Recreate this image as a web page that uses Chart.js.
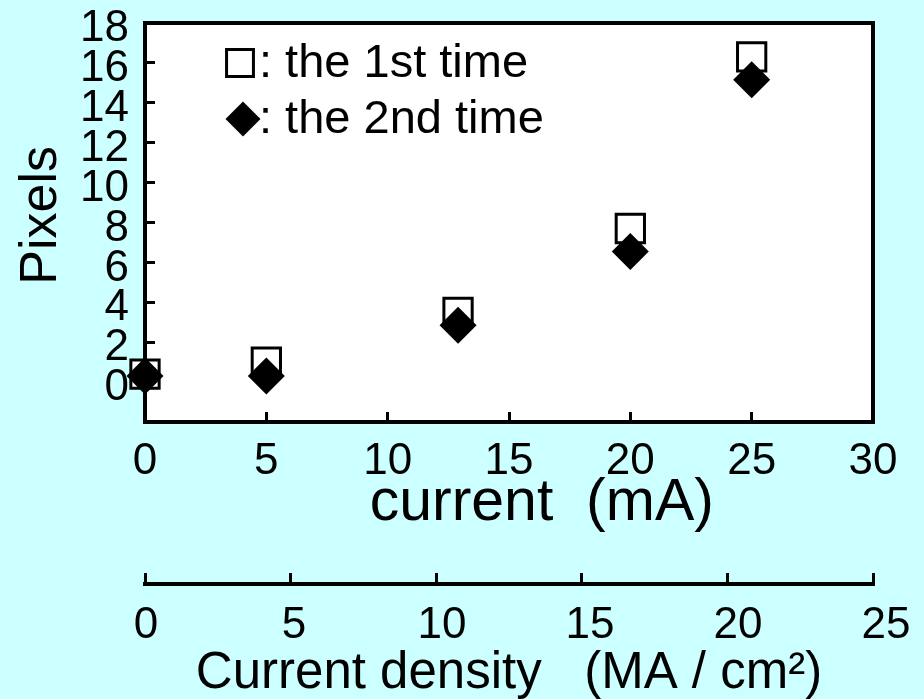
<!DOCTYPE html>
<html>
<head>
<meta charset="utf-8">
<script src="https://cdn.jsdelivr.net/npm/chart.js@4.4.1/dist/chart.umd.min.js"></script>
<style>
  html, body { margin: 0; padding: 0; background: #ccffff; }
</style>
</head>
<body>
<canvas id="chart" width="924" height="699"></canvas>
<script>
// data
const currentMA = [0, 5, 12.9, 20, 25];
const firstTime = [0.4, 1.0, 3.5, 7.7, 16.3];
const secondTime = [0.3, 0.3, 2.85, 6.55, 15.15];
const seriesLabels = ['the 1st time', 'the 2nd time'];
const currentTicks = [0, 5, 10, 15, 20, 25, 30];
const pixelTicks = [0, 2, 4, 6, 8, 10, 12, 14, 16, 18];
const densityTicks = [0, 5, 10, 15, 20, 25];

const FONT = '"Liberation Sans", Arial, sans-serif';

// fixed axis sizes, and no extra room for label overflow
const noPad = s => { s.paddingLeft = s.paddingRight = s.paddingTop = s.paddingBottom = 0; };
const fixHeight = h => s => { s.height = h; noPad(s); };
const fixWidth = w => s => { s.width = w; noPad(s); };
const useTicks = list => s => { s.ticks = list.map(v => ({ value: v })); };

// cyan paper, white plot area
const paperBg = {
    id: 'paperBg',
    beforeDraw(chart) {
        const { ctx, chartArea: a } = chart;
        ctx.save();
        ctx.fillStyle = '#ccffff';
        ctx.fillRect(0, 0, chart.width, chart.height);
        ctx.fillStyle = '#ffffff';
        ctx.fillRect(a.left, a.top, a.right - a.left, a.bottom - a.top);
        ctx.restore();
    }
};

// legend drawn inside the plot, top-left
const insideLegend = {
    id: 'insideLegend',
    afterDraw(chart) {
        const { ctx, chartArea } = chart;
        ctx.save();
        chart.data.datasets.forEach((ds, i) => {
            const cx = chartArea.left + 95 + i * 3;
            const cy = chartArea.top + 40 + i * 56;
            ctx.fillStyle = ds.pointBackgroundColor;
            ctx.strokeStyle = ds.pointBorderColor;
            ctx.lineWidth = ds.pointBorderWidth;
            Chart.helpers.drawPoint(ctx, {
                pointStyle: ds.pointStyle,
                radius: i ? 17.5 : 19,
                borderWidth: ds.pointBorderWidth,
                rotation: 0
            }, cx, cy);
            ctx.fillStyle = '#000';
            ctx.font = '47px ' + FONT;
            ctx.textBaseline = 'alphabetic';
            ctx.textAlign = 'left';
            ctx.fillText(': ' + ds.label, chartArea.left + 114, cy + 14);
        });
        ctx.restore();
    }
};

const tickFont = { family: FONT, size: 44 };

new Chart(document.getElementById('chart'), {
    type: 'scatter',
    data: {
        datasets: [
            {
                label: seriesLabels[0],
                data: currentMA.map((x, i) => ({ x, y: firstTime[i] })),
                pointStyle: 'rect',
                pointRadius: 20,
                pointHoverRadius: 20,
                pointBorderWidth: 3,
                pointBorderColor: '#000',
                pointBackgroundColor: '#fff',
                clip: false,
                order: 2,
                xAxisID: 'x',
                yAxisID: 'y'
            },
            {
                label: seriesLabels[1],
                data: currentMA.map((x, i) => ({ x, y: secondTime[i] })),
                pointStyle: 'rectRot',
                pointRadius: 18.5,
                pointHoverRadius: 18.5,
                pointBorderWidth: 0,
                pointBorderColor: '#000',
                pointBackgroundColor: '#000',
                clip: false,
                order: 1,
                xAxisID: 'x',
                yAxisID: 'y'
            }
        ]
    },
    options: {
        responsive: false,
        animation: false,
        devicePixelRatio: 1,
        layout: { padding: { top: 18, right: 51, bottom: 0, left: 0 } },
        plugins: {
            legend: { display: false },
            tooltip: { enabled: false }
        },
        scales: {
            x: {
                type: 'linear',
                position: 'bottom',
                weight: 0,
                min: 0,
                max: 30,
                afterBuildTicks: useTicks(currentTicks),
                grid: { drawOnChartArea: false, tickLength: -10, tickWidth: 3, tickColor: '#000' },
                border: { width: 4, color: '#000' },
                ticks: { padding: 23, color: '#000', font: tickFont, autoSkip: false, maxRotation: 0 },
                title: {
                    display: true,
                    text: '    current  (mA)',
                    color: '#000',
                    font: { family: FONT, size: 59, lineHeight: 1 },
                    padding: { top: 0, bottom: 51 }
                },
                afterFit: fixHeight(162)
            },
            xd: {
                type: 'linear',
                position: 'bottom',
                weight: 1,
                min: 0,
                max: 25,
                afterBuildTicks: useTicks(densityTicks),
                grid: { drawOnChartArea: false, tickLength: -11, tickWidth: 3, tickColor: '#000' },
                border: { width: 4, color: '#000' },
                ticks: { display: false },
                afterFit: fixHeight(0)
            },
            xdl: {
                type: 'linear',
                position: 'bottom',
                weight: 2,
                min: -0.034,
                max: 24.56,
                afterBuildTicks: useTicks(densityTicks),
                grid: { display: false, drawTicks: false },
                border: { display: false },
                ticks: { padding: 15, color: '#000', font: tickFont, autoSkip: false, maxRotation: 0 },
                title: {
                    display: true,
                    text: 'Current density   (MA / cm²)',
                    color: '#000',
                    font: { family: FONT, size: 51, lineHeight: 1 },
                    padding: { top: 0, bottom: 0 }
                },
                afterFit: fixHeight(115)
            },
            xt: {
                type: 'linear',
                position: 'top',
                min: 0,
                max: 30,
                grid: { display: false, drawTicks: false },
                ticks: { display: false },
                border: { width: 4, color: '#000' },
                afterFit: fixHeight(0)
            },
            y: {
                type: 'linear',
                position: 'left',
                min: -2,
                max: 18,
                afterBuildTicks: useTicks(pixelTicks),
                grid: { drawOnChartArea: false, tickLength: -10, tickWidth: 3, tickColor: '#000' },
                border: { width: 4, color: '#000' },
                ticks: { padding: 26, labelOffset: 6, color: '#000', font: tickFont, autoSkip: false },
                title: {
                    display: true,
                    text: ' Pixels',
                    color: '#000',
                    font: { family: FONT, size: 52, lineHeight: 1 },
                    padding: { top: 16, bottom: 0 }
                },
                afterFit: fixWidth(145)
            },
            yr: {
                type: 'linear',
                position: 'right',
                min: -2,
                max: 18,
                grid: { display: false, drawTicks: false },
                ticks: { display: false },
                border: { width: 4, color: '#000' },
                afterFit: fixWidth(0)
            }
        }
    },
    plugins: [paperBg, insideLegend]
});
</script>
</body>
</html>
